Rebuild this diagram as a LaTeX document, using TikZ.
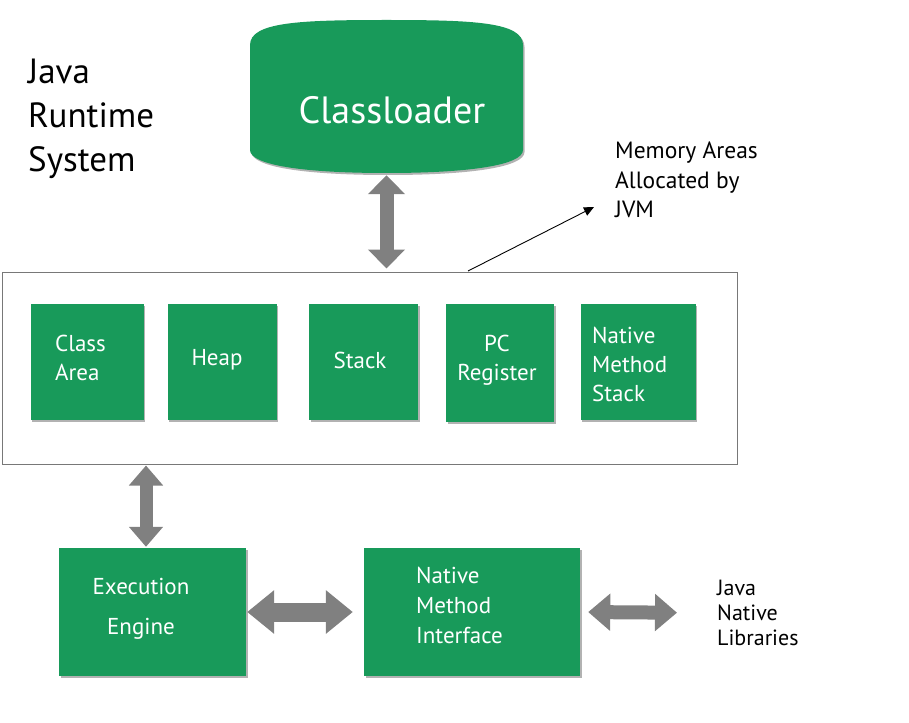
\documentclass[tikz,border=0pt]{standalone}
\usepackage{fontspec}
\setmainfont{PT Sans}
\usetikzlibrary{arrows.meta,shadows}
\definecolor{jgreen}{RGB}{24,154,90}
\definecolor{jgray}{RGB}{128,128,128}
\definecolor{bordergray}{RGB}{120,120,120}
\begin{document}
\begin{tikzpicture}[x=1pt,y=-1pt,
  gbox/.style={fill=jgreen, draw=none, inner sep=0pt, text=white,
     drop shadow={shadow xshift=1.5pt, shadow yshift=-2pt, opacity=0.3, fill=black}},
  btext/.style={text=white, inner sep=0pt, align=left, font=\fontsize{23}{29}\selectfont},
  ltext/.style={text=black, inner sep=0pt, align=left},
  fat/.style={draw=jgray, line width=#1}
]
\useasboundingbox (0,0) rectangle (909,722);

% title
\node[ltext, anchor=west, font=\fontsize{35}{44}\selectfont] (title) at (28,119) {Java\\Runtime\\System};

% classloader drum
\fill[jgreen, drop shadow={shadow xshift=1.5pt, shadow yshift=-2pt, opacity=0.3, fill=black}]
  (250,150) -- (250,45) .. controls (250,22) and (300,20) .. (386.5,20)
  .. controls (473,20) and (523,22) .. (523,45) -- (523,150)
  .. controls (523,165) and (470,173) .. (386.5,173)
  .. controls (303,173) and (250,165) .. (250,150) -- cycle;
\node[minimum width=273pt, minimum height=153pt, inner sep=0pt] (cl) at (386.5,96.5) {};
\node[text=white, inner sep=0pt, font=\fontsize{38}{42}\selectfont] (cltext) at (392,110) {Classloader};

% memory area container
\node[draw=bordergray, line width=1pt, minimum width=735pt, minimum height=192pt, inner sep=0pt] (mem) at (370,368) {};

% inner boxes
\node[gbox, minimum width=113pt, minimum height=116pt] (ca) at (87,361.5) {};
\node[btext, anchor=west] (catext) at (55,358) {Class\\Area};
\node[gbox, minimum width=109pt, minimum height=116pt] (heap) at (222,361.5) {};
\node[btext] (heaptext) at (217,360) {Heap};
\node[gbox, minimum width=109pt, minimum height=116pt] (stack) at (363.5,361.5) {};
\node[btext] (stacktext) at (360,360) {Stack};
\node[gbox, minimum width=108pt, minimum height=118pt] (pc) at (500,362.5) {};
\node[btext, align=center] (pctext) at (497,360) {PC\\Register};
\node[gbox, minimum width=115pt, minimum height=116pt] (nms) at (638,361.5) {};
\node[btext, anchor=west] (nmstext) at (592,364) {Native\\Method\\Stack};

% bottom boxes
\node[gbox, minimum width=187pt, minimum height=128pt] (ee) at (152.5,612) {};
\node[btext, align=center, font=\fontsize{23}{40}\selectfont] (eetext) at (141,609) {Execution\\Engine};
\node[gbox, minimum width=216pt, minimum height=128pt] (nmi) at (472,612) {};
\node[btext, anchor=west, font=\fontsize{23}{30}\selectfont] (nmitext) at (416,605) {Native\\Method\\Interface};

% side texts
\node[ltext, anchor=west, font=\fontsize{23.5}{29.5}\selectfont] (memtext) at (615,180) {Memory Areas\\Allocated by\\JVM};
\node[ltext, anchor=west, font=\fontsize{22}{25}\selectfont] (jnl) at (717,613) {Java\\Native\\Libraries};

% pointer line
\coordinate (p) at (468,271);
\coordinate (q) at (594,207);
\draw[line width=0.9pt, -{Triangle[length=10pt,width=9pt]}] (p) -- (q);

% fat arrows
\draw[fat=14pt, {Triangle[length=19pt,width=36pt]}-{Triangle[length=19pt,width=36pt]},
  shorten <=2pt, shorten >=3pt] (cl.south) -- (cl.south |- mem.north);
\draw[fat=13pt, {Triangle[length=20pt,width=33pt]}-{Triangle[length=20pt,width=33pt]},
  shorten <=1pt, shorten >=1pt] ([xshift=-6.5pt]ee.north |- mem.south) -- ([xshift=-6.5pt]ee.north);
\draw[fat=19pt, {Triangle[length=27pt,width=42pt]}-{Triangle[length=27pt,width=42pt]},
  shorten <=1pt, shorten >=11pt] (ee.east) -- (nmi.west);
\draw[fat=14pt, {Triangle[length=22pt,width=36pt]}-{Triangle[length=22pt,width=36pt]},
  shorten <=8pt, shorten >=40pt] (nmi.east) -- (jnl.west);
\end{tikzpicture}
\end{document}
